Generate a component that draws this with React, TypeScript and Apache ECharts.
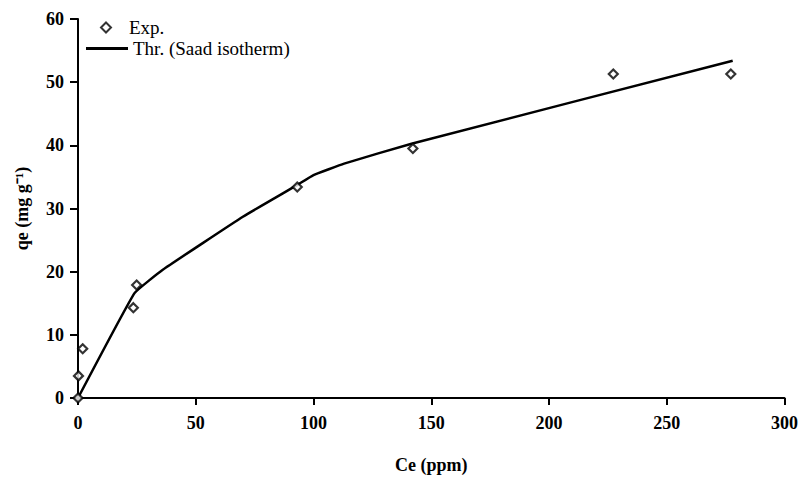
import React, { useEffect, useRef } from "react";
import * as echarts from "echarts";

const expCe = [0, 0.2, 2.0, 23.5, 24.9, 93.1, 142.2, 227.3, 277.2];
const expQe = [0, 3.5, 7.8, 14.3, 17.9, 33.4, 39.5, 51.3, 51.3];

const thrCe = [0, 24, 36, 70, 93, 100, 113, 142, 278];
const thrQe = [0, 16.6, 20.3, 28.7, 33.7, 35.3, 37.1, 40.3, 53.4];

const xTicks = [0, 50, 100, 150, 200, 250, 300];
const yTicks = [0, 10, 20, 30, 40, 50, 60];

const FONT = "'Liberation Serif', 'Times New Roman', serif";

export default function App() {
  const ref = useRef<HTMLDivElement>(null);
  useEffect(() => {
    if (!ref.current) return;
    const chart = echarts.init(ref.current, undefined, { renderer: "svg" });
    chart.setOption({
      animation: false,
      backgroundColor: "#fff",
      textStyle: { fontFamily: FONT, color: "#000" },
      grid: { left: 78, right: 15, top: 19, bottom: 81, containLabel: false },
      legend: [
        {
          orient: "vertical",
          left: 95,
          top: 13,
          itemWidth: 10,
          itemHeight: 10,
          textStyle: { fontFamily: FONT, fontSize: 19, color: "#000", padding: [0, 0, 0, 13] },
          data: [{ name: "Exp.", icon: "diamond" }],
        },
        {
          orient: "vertical",
          left: 81,
          top: 34,
          itemWidth: 42,
          itemHeight: 3,
          textStyle: { fontFamily: FONT, fontSize: 19, color: "#000" },
          data: [{ name: "Thr. (Saad isotherm)", icon: "rect", itemStyle: { color: "#000", borderWidth: 0 } }],
        },
      ],
      xAxis: {
        type: "value",
        min: xTicks[0],
        max: xTicks[xTicks.length - 1],
        interval: 50,
        name: "Ce (ppm)",
        nameLocation: "middle",
        nameGap: 58,
        nameTextStyle: { fontFamily: FONT, fontSize: 18, fontWeight: "bold", color: "#000" },
        splitLine: { show: false },
        axisLine: { show: true, lineStyle: { color: "#000", width: 2 } },
        axisTick: { show: true, length: 7, lineStyle: { color: "#000", width: 2 } },
        axisLabel: { margin: 16, fontFamily: FONT, fontSize: 18, fontWeight: "bold", color: "#000" },
      },
      yAxis: {
        type: "value",
        min: yTicks[0],
        max: yTicks[yTicks.length - 1],
        interval: 10,
        name: "qe (mg g\u207B\u00B9)",
        nameLocation: "middle",
        nameGap: 47,
        nameTextStyle: { fontFamily: FONT, fontSize: 18, fontWeight: "bold", color: "#000" },
        splitLine: { show: false },
        axisLine: { show: true, lineStyle: { color: "#000", width: 2 } },
        axisTick: { show: true, length: 8, lineStyle: { color: "#000", width: 2 } },
        axisLabel: { margin: 14, fontFamily: FONT, fontSize: 18, fontWeight: "bold", color: "#000" },
      },
      series: [
        {
          name: "Exp.",
          type: "scatter",
          symbol: "diamond",
          symbolSize: 9,
          itemStyle: { color: "#fff", borderColor: "#000", borderWidth: 2.2 },
          data: expCe.map((x, i) => [x, expQe[i]]),
          z: 3,
        },
        {
          name: "Thr. (Saad isotherm)",
          type: "line",
          symbol: "none",
          smooth: 0.1,
          lineStyle: { color: "#000", width: 2.5 },
          itemStyle: { color: "#000" },
          data: thrCe.map((x, i) => [x, thrQe[i]]),
          z: 2,
        },
      ],
    });
    return () => chart.dispose();
  }, []);
  return <div ref={ref} style={{ width: 801, height: 479, position: "absolute", left: 0, top: 0 }} />;
}
